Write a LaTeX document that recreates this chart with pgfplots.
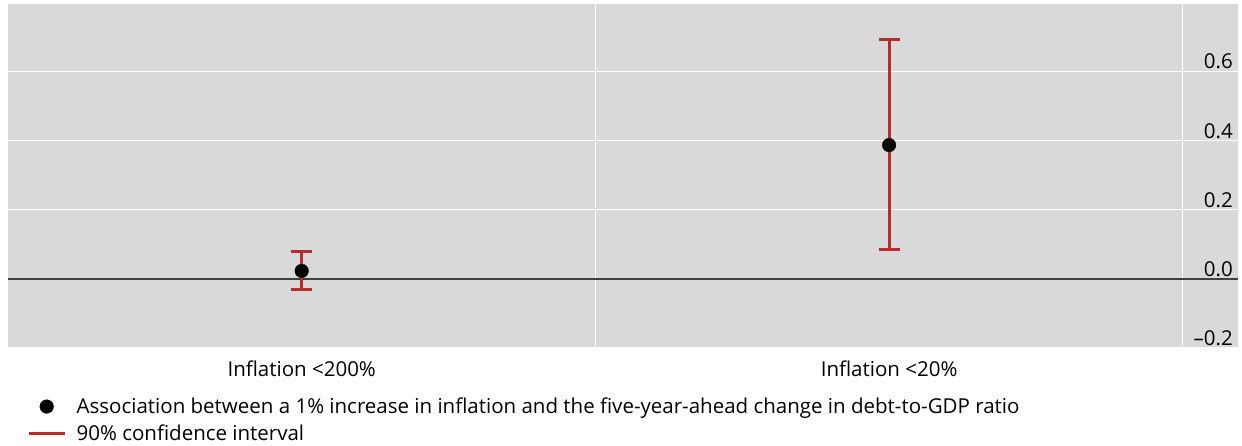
\documentclass[border=0pt]{standalone}
\usepackage{pgfplots}
\pgfplotsset{compat=1.18}
\usepackage{fontspec}
\setmainfont{Open Sans}
\definecolor{panelgray}{RGB}{217,217,217}
\definecolor{cired}{RGB}{178,46,46}
\definecolor{zerogray}{RGB}{64,64,64}

\begin{document}
\begin{tikzpicture}[x=1pt,y=1pt]
\useasboundingbox (0,0) rectangle (1242,445);
\begin{axis}[
  at={(8pt,97pt)}, anchor=south west,
  scale only axis, width=1230pt, height=344pt,
  xmin=-0.5, xmax=1.594, ymin=-0.2, ymax=0.795,
  axis background/.style={fill=panelgray},
  axis line style={draw=none},
  font=\fontsize{20.5}{24}\selectfont,
  xtick={0,1},
  xticklabels={Inflation <200\%, Inflation <20\%},
  major tick length=0pt,
  xticklabel style={yshift=-9pt},
  extra x ticks={0.5,1.5},
  extra x tick labels={},
  extra x tick style={grid=major, major grid style={white, line width=1.4pt}},
  ytick={-0.2,0,0.2,0.4,0.6},
  yticklabels={–0.2,0.0,0.2,0.4,0.6},
  yticklabel pos=right,
  yticklabel style={anchor=south east, xshift=-3pt, inner sep=2pt},
  ymajorgrids,
  major grid style={white, line width=1.4pt},
  legend cell align=left,
  legend style={at={(0.0130,-0.133)}, anchor=north west, draw=none, fill=none,
    font=\fontsize{20.5}{24}\selectfont, row sep=6pt,
    nodes={inner xsep=10.5pt, inner ysep=2pt}},
]
% zero reference line
\addplot[zerogray, line width=1.5pt, forget plot] coordinates {(-0.5,0) (1.594,0)};

% 90% confidence intervals
\addplot[draw=none, forget plot,
  error bars/.cd, y dir=both, y explicit,
  error bar style={cired, line width=3pt},
  error mark options={cired, line width=3pt, mark size=10.5pt, rotate=90}]
  coordinates {
    (0,0.023) += (0,0.056) -= (0,0.053)
    (1,0.387) += (0,0.304) -= (0,0.303)
  };

% point estimates
\addplot[only marks, mark=*, mark size=6.8pt, black, forget plot]
  coordinates {(0,0.023) (1,0.387)};

\addlegendimage{legend image code/.code={\fill[black] (18pt,0pt) circle (6.8pt);}}
\addlegendentry{Association between a 1\% increase in inflation and the five-year-ahead change in debt-to-GDP ratio}
\addlegendimage{legend image code/.code={\draw[cired, line width=3pt] (0pt,0pt) -- (36pt,0pt);}}
\addlegendentry{90\% confidence interval}
\end{axis}
\end{tikzpicture}
\end{document}
